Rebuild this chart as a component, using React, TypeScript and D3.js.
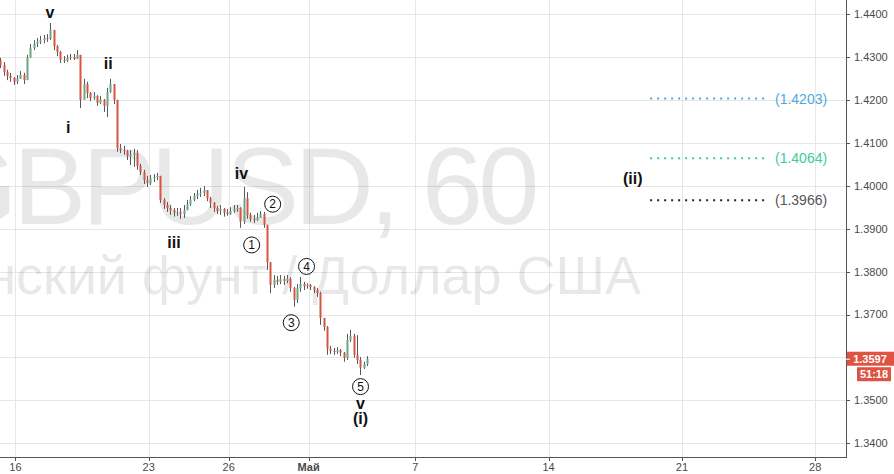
import React from 'react';
import * as d3 from 'd3';

const W = 894;
const H = 474;
const PLOT_R = 846;
const PLOT_B = 457;
const FONT = 'Liberation Sans, Arial, sans-serif';

// price axis
const priceTicks = [1.34, 1.35, 1.36, 1.37, 1.38, 1.39, 1.4, 1.41, 1.42, 1.43, 1.44];
const hiddenPriceLabels = [1.36];

// time axis: trading-day index from Apr 16
const dayTicks = [0, 5, 8, 11, 15, 20, 25, 30];
const dayLabels = ['16', '23', '26', 'Май', '7', '14', '21', '28'];
const boldDayLabels = ['Май'];

// candles (3-hour bars, trading hours relative to Apr 16 00:00)
const barHours = 3;
const firstBarHour = -15;
const firstOpen = 1.4293;
const closes = [
  1.4281, 1.4265, 1.4256, 1.4251, 1.4242, 1.4249, 1.4258, 1.4246, 1.4298, 1.4321,
  1.4330, 1.4335, 1.4339, 1.4344, 1.4342, 1.4363, 1.4325, 1.4312, 1.4293, 1.4291,
  1.4298, 1.4300, 1.4295, 1.4305, 1.4200, 1.4237, 1.4216, 1.4204, 1.4209, 1.4193,
  1.4200, 1.4186, 1.4218, 1.4237, 1.4200, 1.4088, 1.4083, 1.4081, 1.4069, 1.4072,
  1.4076, 1.4046, 1.4032, 1.4013, 1.4006, 1.4018, 1.4020, 1.4023, 1.3967, 1.3955,
  1.3948, 1.3943, 1.3937, 1.3939, 1.3934, 1.3943, 1.3957, 1.3967, 1.3976, 1.3981,
  1.3983, 1.3990, 1.3971, 1.3960, 1.3948, 1.3941, 1.3946, 1.3937, 1.3934, 1.3941,
  1.3946, 1.3948, 1.3916, 1.3971, 1.3932, 1.3923, 1.3920, 1.3925, 1.3934, 1.3909,
  1.3822, 1.3769, 1.3781, 1.3776, 1.3783, 1.3778, 1.3783, 1.3762, 1.3734, 1.3762,
  1.3771, 1.3766, 1.3769, 1.3764, 1.3757, 1.3750, 1.3692, 1.3671, 1.3620, 1.3615,
  1.3613, 1.3617, 1.3611, 1.3599, 1.3641, 1.3650, 1.3606, 1.3594, 1.3576, 1.3585,
  1.3597,
];
const highs = [
  1.4298, 1.4288, 1.4270, 1.4263, 1.4253, 1.4258, 1.4267, 1.4263, 1.4305, 1.4330,
  1.4339, 1.4344, 1.4349, 1.4351, 1.4353, 1.4379, 1.4363, 1.4328, 1.4314, 1.4302,
  1.4305, 1.4307, 1.4307, 1.4316, 1.4298, 1.4249, 1.4242, 1.4218, 1.4218, 1.4211,
  1.4209, 1.4202, 1.4228, 1.4249, 1.4237, 1.4200, 1.4097, 1.4093, 1.4083, 1.4083,
  1.4086, 1.4083, 1.4051, 1.4037, 1.4023, 1.4025, 1.4027, 1.4030, 1.4023, 1.3971,
  1.3962, 1.3955, 1.3948, 1.3948, 1.3948, 1.3955, 1.3967, 1.3976, 1.3983, 1.3990,
  1.3995, 1.3999, 1.3990, 1.3974, 1.3962, 1.3953, 1.3955, 1.3948, 1.3946, 1.3950,
  1.3955, 1.3955, 1.3950, 1.3997, 1.3985, 1.3937, 1.3932, 1.3937, 1.3941, 1.3939,
  1.3909, 1.3822, 1.3792, 1.3790, 1.3792, 1.3790, 1.3792, 1.3787, 1.3764, 1.3771,
  1.3787, 1.3776, 1.3773, 1.3771, 1.3766, 1.3762, 1.3753, 1.3692, 1.3673, 1.3627,
  1.3622, 1.3624, 1.3620, 1.3613, 1.3655, 1.3664, 1.3655, 1.3652, 1.3601, 1.3590,
  1.3603,
];
const lows = [
  1.4274, 1.4256, 1.4246, 1.4242, 1.4235, 1.4237, 1.4249, 1.4237, 1.4246, 1.4298,
  1.4316, 1.4323, 1.4330, 1.4332, 1.4335, 1.4339, 1.4316, 1.4302, 1.4286, 1.4286,
  1.4288, 1.4293, 1.4293, 1.4295, 1.4181, 1.4204, 1.4204, 1.4197, 1.4200, 1.4186,
  1.4190, 1.4172, 1.4160, 1.4216, 1.4190, 1.4079, 1.4076, 1.4072, 1.4060, 1.4048,
  1.4044, 1.4037, 1.4025, 1.4004, 1.3997, 1.4002, 1.4009, 1.4013, 1.3960, 1.3946,
  1.3939, 1.3932, 1.3928, 1.3930, 1.3923, 1.3925, 1.3943, 1.3953, 1.3964, 1.3969,
  1.3974, 1.3976, 1.3964, 1.3948, 1.3939, 1.3934, 1.3932, 1.3928, 1.3930, 1.3932,
  1.3937, 1.3939, 1.3902, 1.3911, 1.3923, 1.3916, 1.3913, 1.3918, 1.3925, 1.3902,
  1.3804, 1.3750, 1.3762, 1.3769, 1.3771, 1.3769, 1.3773, 1.3753, 1.3718, 1.3727,
  1.3753, 1.3757, 1.3760, 1.3757, 1.3750, 1.3741, 1.3676, 1.3662, 1.3606, 1.3608,
  1.3606, 1.3608, 1.3603, 1.3590, 1.3594, 1.3636, 1.3599, 1.3585, 1.3559, 1.3573,
  1.3580,
];
const lastPrice = 1.3597;
const countdown = '51:18';

// Elliott wave labels
const waveLabels = [
  { text: 'v', hour: 31.1, price: 1.4405 },
  { text: 'ii', hour: 83.6, price: 1.4285 },
  { text: 'i', hour: 47.6, price: 1.4137 },
  { text: 'iii', hour: 142.8, price: 1.3869 },
  { text: 'iv', hour: 203.5, price: 1.4028 },
  { text: 'v', hour: 310.7, price: 1.3494 },
  { text: '(i)', hour: 310.7, price: 1.3458 },
  { text: '(ii)', hour: 555.7, price: 1.4017 },
];
const circledLabels = [
  { text: '1', hour: 212.7, price: 1.3862 },
  { text: '2', hour: 231.6, price: 1.3957 },
  { text: '3', hour: 248.3, price: 1.3681 },
  { text: '4', hour: 262.1, price: 1.3812 },
  { text: '5', hour: 310.7, price: 1.3532 },
];

// target levels
const fibPrices = [1.4203, 1.4064, 1.3966];
const fibDotColors = ['#4fa9dc', '#3ecb9b', '#222222'];
const fibTextColors = ['#4fa9dc', '#3ecb9b', '#555555'];
const fibStartHour = 571.4;
const fibEndHour = 676.6;
const fibLabelHour = 683.8;

export default function App() {
  const x = d3.scaleLinear().domain([0, 720]).range([15.4, 815.2]);
  const y = d3.scaleLinear().domain([1.34, 1.44]).range([443.3, 14]);

  const candles = closes.map((c, i) => {
    const o = i === 0 ? firstOpen : closes[i - 1];
    const cx = x(firstBarHour + barHours * i + barHours / 2);
    return { o, c, h: highs[i], l: lows[i], cx };
  });

  const yLast = y(lastPrice);

  return (
    <svg
      width={W}
      height={H}
      style={{ position: 'fixed', left: 0, top: 0, background: '#fff' }}
      fontFamily={FONT}
    >
      <rect x={0} y={0} width={W} height={H} fill="#fff" />
      <defs>
        <clipPath id="plot">
          <rect x={0} y={0} width={PLOT_R} height={PLOT_B} />
        </clipPath>
      </defs>
      {/* grid */}
      <g stroke="#e6e6e6" strokeWidth={1}>
        {priceTicks.map((p) => (
          <line key={'h' + p} x1={0} x2={PLOT_R} y1={Math.round(y(p)) + 0.5} y2={Math.round(y(p)) + 0.5} />
        ))}
        {dayTicks.map((d) => (
          <line key={'v' + d} y1={0} y2={PLOT_B} x1={Math.round(x(d * 24)) + 0.5} x2={Math.round(x(d * 24)) + 0.5} />
        ))}
      </g>
      {/* watermark */}
      <g clipPath="url(#plot)" fill="#000" fillOpacity={0.09}>
        <text x={535} y={224} fontSize={110} textAnchor="end" letterSpacing={-4.5}>GBPUSD, 60</text>
        <text x={641} y={294} fontSize={54} textAnchor="end">Британский фунт / Доллар США</text>
      </g>
      {/* candles */}
      <g clipPath="url(#plot)">
        {candles.map((k, i) => {
          const up = k.c >= k.o;
          const top = y(Math.max(k.o, k.c));
          const bot = y(Math.min(k.o, k.c));
          const wx = Math.round(k.cx);
          return (
            <g key={i}>
              <rect x={wx} y={y(k.h)} width={1} height={Math.max(1, y(k.l) - y(k.h))} fill="#55585f" />
              <rect
                x={wx - 0.5}
                y={top}
                width={2}
                height={Math.max(1, bot - top)}
                fill={up ? '#6ba583' : '#d75442'}
              />
            </g>
          );
        })}
      </g>
      {/* target levels */}
      {fibPrices.map((p, i) => (
        <g key={'f' + i}>
          <line
            x1={x(fibStartHour)}
            x2={x(fibEndHour)}
            y1={y(p)}
            y2={y(p)}
            stroke={fibDotColors[i]}
            strokeWidth={2}
            strokeDasharray="2 5"
          />
          <text x={x(fibLabelHour)} y={y(p)} dy="0.36em" fontSize={14} fill={fibTextColors[i]}>
            ({p.toFixed(4)})
          </text>
        </g>
      ))}
      {/* wave labels */}
      {waveLabels.map((w, i) => (
        <text
          key={'w' + i}
          x={x(w.hour)}
          y={y(w.price)}
          dy="0.36em"
          textAnchor="middle"
          fontSize={16}
          fontWeight="bold"
          fill="#111"
        >
          {w.text}
        </text>
      ))}
      {circledLabels.map((w, i) => (
        <g key={'c' + i}>
          <circle cx={x(w.hour)} cy={y(w.price)} r={8} fill="none" stroke="#111" strokeWidth={1} />
          <text x={x(w.hour)} y={y(w.price)} dy="0.36em" textAnchor="middle" fontSize={12} fill="#111">
            {w.text}
          </text>
        </g>
      ))}
      {/* axes */}
      <line x1={PLOT_R + 0.5} x2={PLOT_R + 0.5} y1={0} y2={PLOT_B + 1} stroke="#555" />
      <line x1={0} x2={PLOT_R + 1} y1={PLOT_B + 0.5} y2={PLOT_B + 0.5} stroke="#555" />
      {priceTicks.map((p) => (
        <g key={'pt' + p}>
          <line x1={PLOT_R} x2={PLOT_R + 4} y1={Math.round(y(p)) + 0.5} y2={Math.round(y(p)) + 0.5} stroke="#555" />
          {hiddenPriceLabels.includes(p) ? null : (
            <text x={854} y={y(p)} dy="0.36em" fontSize={11} fill="#4a4a4a">
              {p.toFixed(4)}
            </text>
          )}
        </g>
      ))}
      {dayTicks.map((d, i) => (
        <g key={'dt' + d}>
          <line x1={Math.round(x(d * 24)) + 0.5} x2={Math.round(x(d * 24)) + 0.5} y1={PLOT_B} y2={PLOT_B + 4} stroke="#555" />
          <text
            x={x(d * 24)}
            y={471}
            textAnchor="middle"
            fontSize={11}
            fill="#4a4a4a"
            fontWeight={boldDayLabels.includes(dayLabels[i]) ? 'bold' : 'normal'}
          >
            {dayLabels[i]}
          </text>
        </g>
      ))}
      {/* last price label */}
      <rect x={PLOT_R + 1} y={yLast - 7} width={W - PLOT_R - 1} height={14} fill="#de5442" />
      <line x1={PLOT_R} x2={PLOT_R + 4} y1={yLast + 0.5} y2={yLast + 0.5} stroke="#fff" />
      <text x={870} y={yLast} dy="0.36em" textAnchor="middle" fontSize={11} fontWeight="bold" fill="#fff">
        {lastPrice.toFixed(4)}
      </text>
      <rect x={857} y={yLast + 8.5} width={34} height={14} fill="#de5442" />
      <text x={874} y={yLast + 15.5} dy="0.36em" textAnchor="middle" fontSize={11} fontWeight="bold" fill="#fff">
        {countdown}
      </text>
    </svg>
  );
}
